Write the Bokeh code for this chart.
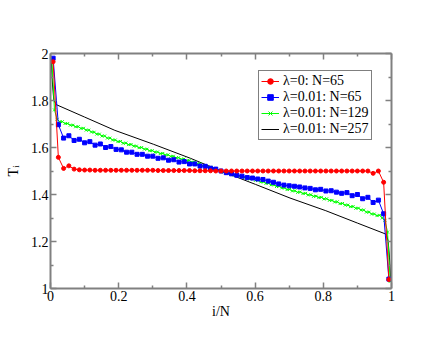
from bokeh.plotting import figure
from bokeh.models import Range1d, FixedTicker, LinearAxis, Legend, LegendItem
from bokeh.embed import file_html
from bokeh.resources import INLINE

# ---------------- data ----------------
x_ticks = [0, 0.2, 0.4, 0.6, 0.8, 1]
x_tick_labels = ["0", "0.2", "0.4", "0.6", "0.8", "1"]
x_minor = [0.1, 0.3, 0.5, 0.7, 0.9]
y_ticks = [1, 1.2, 1.4, 1.6, 1.8, 2]
y_tick_labels = ["1", "1.2", "1.4", "1.6", "1.8", "2"]
y_minor = [1.1, 1.3, 1.5, 1.7, 1.9]

series_labels = ["λ=0: N=65", "λ=0.01: N=65", "λ=0.01: N=129", "λ=0.01: N=257"]

N_red = 65
T_red = [1.965, 1.558, 1.511, 1.522, 1.508, 1.505, 1.504, 1.504, 1.503, 1.503,
         1.503, 1.503, 1.503, 1.503, 1.503, 1.503, 1.503, 1.503, 1.503, 1.503,
         1.502, 1.502, 1.502, 1.502, 1.502, 1.502, 1.502, 1.501, 1.501, 1.501,
         1.501, 1.500, 1.500, 1.500, 1.500, 1.500, 1.500, 1.500, 1.500, 1.500,
         1.500, 1.500, 1.500, 1.500, 1.500, 1.500, 1.500, 1.500, 1.500, 1.500,
         1.500, 1.500, 1.500, 1.500, 1.500, 1.500, 1.500, 1.500, 1.500, 1.500,
         1.500, 1.490, 1.500, 1.452, 1.038]

N_blue = 65
T_blue = [1.980, 1.697, 1.640, 1.650, 1.630, 1.635, 1.620, 1.625, 1.610, 1.615,
          1.600, 1.604, 1.592, 1.590, 1.580, 1.580, 1.571, 1.571, 1.563, 1.563,
          1.554, 1.556, 1.546, 1.548, 1.538, 1.540, 1.530, 1.530, 1.521, 1.520,
          1.512, 1.508, 1.500, 1.493, 1.488, 1.482, 1.478, 1.472, 1.470, 1.466,
          1.464, 1.457, 1.452, 1.445, 1.440, 1.437, 1.435, 1.432, 1.428, 1.426,
          1.420, 1.422, 1.415, 1.416, 1.410, 1.405, 1.408, 1.395, 1.400, 1.382,
          1.388, 1.366, 1.376, 1.318, 1.040]

N_green = 129
T_green = [1.980, 1.760, 1.720, 1.710, 1.710, 1.702, 1.702, 1.695, 1.695, 1.688,
           1.689, 1.681, 1.682, 1.674, 1.674, 1.666, 1.665, 1.657, 1.657, 1.649,
           1.649, 1.640, 1.640, 1.632, 1.632, 1.625, 1.626, 1.618, 1.619, 1.612,
           1.613, 1.606, 1.606, 1.599, 1.600, 1.593, 1.593, 1.586, 1.587, 1.580,
           1.581, 1.574, 1.575, 1.568, 1.569, 1.562, 1.563, 1.556, 1.557, 1.550,
           1.551, 1.544, 1.545, 1.537, 1.538, 1.530, 1.531, 1.523, 1.523, 1.516,
           1.516, 1.509, 1.509, 1.502, 1.502, 1.495, 1.496, 1.489, 1.490, 1.483,
           1.484, 1.478, 1.479, 1.472, 1.473, 1.466, 1.467, 1.460, 1.461, 1.453,
           1.454, 1.447, 1.448, 1.441, 1.441, 1.434, 1.435, 1.428, 1.428, 1.421,
           1.422, 1.415, 1.416, 1.409, 1.411, 1.404, 1.405, 1.398, 1.399, 1.392,
           1.393, 1.387, 1.388, 1.381, 1.382, 1.375, 1.375, 1.368, 1.369, 1.361,
           1.362, 1.355, 1.355, 1.348, 1.349, 1.341, 1.342, 1.334, 1.334, 1.325,
           1.325, 1.317, 1.317, 1.310, 1.312, 1.300, 1.290, 1.240, 1.030]

N_black = 257
i_black = [0, 1, 2, 4, 25, 48, 77, 105, 128, 154, 180, 207, 231, 252, 253, 254, 255, 256]
T_black = [1.980, 1.870, 1.800, 1.782, 1.730, 1.673, 1.614, 1.554, 1.500, 1.443,
           1.385, 1.331, 1.278, 1.232, 1.225, 1.200, 1.130, 1.030]

# positions i/N of the lattice sites (site centres)
x_red = [(i + 0.5) / N_red for i in range(N_red)]
x_blue = [(i + 0.5) / N_blue for i in range(N_blue)]
x_green = [(i + 0.5) / N_green for i in range(N_green)]
x_black = [(i + 0.5) / N_black for i in i_black]

# ---------------- figure ----------------
FONT = "Liberation Serif"
AXIS_GREY = "#808080"

p = figure(width=424, height=324, x_range=Range1d(0, 1), y_range=Range1d(1, 2),
           output_backend="svg", toolbar_location=None,
           x_axis_location=None, y_axis_location=None,
           min_border_left=50, min_border_right=33, min_border_top=53, min_border_bottom=36,
           background_fill_color="white", border_fill_color="white")
p.outline_line_color = None
p.xgrid.visible = False
p.ygrid.visible = False

bottom = LinearAxis(axis_label="i/N")
left = LinearAxis(axis_label="Tᵢ")
top = LinearAxis()
right = LinearAxis()
p.add_layout(bottom, "below")
p.add_layout(left, "left")
p.add_layout(top, "above")
p.add_layout(right, "right")

for ax, ticks, minor, labels in [(bottom, x_ticks, x_minor, x_tick_labels),
                                 (top, x_ticks, x_minor, None),
                                 (left, y_ticks, y_minor, y_tick_labels),
                                 (right, y_ticks, y_minor, None)]:
    ax.ticker = FixedTicker(ticks=ticks, minor_ticks=minor)
    ax.axis_line_color = AXIS_GREY
    ax.axis_line_width = 2
    ax.major_tick_line_color = AXIS_GREY
    ax.minor_tick_line_color = AXIS_GREY
    ax.major_tick_line_width = 1.5
    ax.minor_tick_line_width = 1.5
    ax.major_tick_in = 6
    ax.major_tick_out = 0
    ax.minor_tick_in = 3
    ax.minor_tick_out = 0
    ax.major_label_text_font = FONT
    ax.major_label_text_font_size = "14px"
    ax.major_label_text_color = "black"
    ax.major_label_standoff = 2
    if labels is None:
        ax.major_label_overrides = {t: "" for t in ticks}
    else:
        ax.major_label_overrides = dict(zip(ticks, labels))

for ax in (bottom, left):
    ax.axis_label_text_font = FONT
    ax.axis_label_text_font_size = "14px"
    ax.axis_label_text_font_style = "normal"
    ax.axis_label_text_color = "black"
bottom.axis_label_standoff = 0
left.axis_label_standoff = 7

# ---------------- glyphs ----------------
l_blk = p.line(x_black, T_black, color="black", line_width=1)

l_grn = p.line(x_green, T_green, color="#00ff00", line_width=1)
s_grn = p.scatter(x_green, T_green, marker="x", size=4, line_color="#00ff00", line_width=1)

l_blu = p.line(x_blue, T_blue, color="#0000ff", line_width=1)
s_blu = p.scatter(x_blue, T_blue, marker="square", size=4, color="#0000ff")

l_red = p.line(x_red, T_red, color="#ff0000", line_width=1)
s_red = p.scatter(x_red, T_red, marker="circle", size=4, color="#ff0000")

legend = Legend(items=[
    LegendItem(label=series_labels[0], renderers=[l_red, s_red]),
    LegendItem(label=series_labels[1], renderers=[l_blu, s_blu]),
    LegendItem(label=series_labels[2], renderers=[l_grn, s_grn]),
    LegendItem(label=series_labels[3], renderers=[l_blk]),
], location=(208, 148))
legend.label_text_font = FONT
legend.label_text_font_size = "14px"
legend.label_text_line_height = 0.8
legend.label_text_color = "black"
legend.label_height = 14
legend.glyph_height = 14
legend.glyph_width = 18
legend.label_standoff = 4
legend.spacing = 0
legend.padding = 2
legend.margin = 0
legend.border_line_color = "black"
legend.border_line_width = 1
legend.background_fill_color = "white"
legend.background_fill_alpha = 1
p.add_layout(legend, "center")

open("out.html", "w").write(file_html(p, INLINE))
